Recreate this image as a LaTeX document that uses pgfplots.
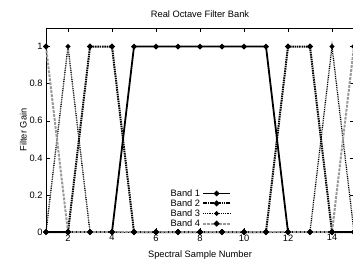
\documentclass[border=0pt]{standalone}
\usepackage{pgfplots}
\pgfplotsset{compat=1.18}
\usepackage{fontspec}
\setmainfont{Liberation Sans}
\begin{document}
\begin{tikzpicture}
\begin{axis}[
  name=ax,
  scale only axis,
  width=308pt, height=204pt,
  xmin=1, xmax=15, ymin=0, ymax=1.1,
  xtick={2,4,...,14}, ytick={0,0.2,...,1},
  yticklabels={0,0.2,0.4,0.6,0.8,1},
  tick align=inside,
  major tick length=4pt,
  tick style={black, line width=0.4pt},
  axis line style={line width=0.5pt},
  ticklabel style={font=\fontsize{9.3}{10}\selectfont},
  xticklabel style={yshift=1pt},
  /pgf/number format/assume math mode=true,
  title={Real Octave Filter Bank},
  title style={font=\fontsize{9.3}{10}\selectfont, yshift=1pt},
  xlabel={Spectral Sample Number},
  ylabel={Filter Gain},
  label style={font=\fontsize{9.3}{10}\selectfont},
  xlabel style={yshift=-2.5pt},
  ylabel style={yshift=-4pt},
  clip=false,
  legend plot pos=right,
  legend cell align=right,
  legend style={at={(0.605,0.225)}, anchor=north east, draw=none, fill=none,
    font=\fontsize{9.3}{10}\selectfont, row sep=-2.2pt, inner sep=1pt},
  legend image code/.code={\draw[mark repeat=2,mark phase=2,#1] plot coordinates {(0cm,0cm) (0.475cm,0cm) (0.95cm,0cm)};},
  every axis plot/.append style={mark=*, mark size=1.7pt},
]
\addplot[black, line width=1.8pt, mark options={solid}] coordinates {
(1,0)(2,0)(3,0)(4,0)(5,1)(6,1)(7,1)(8,1)(9,1)(10,1)(11,1)(12,0)(13,0)(14,0)(15,0)};
\addlegendentry{Band 1}
\addplot[black, line width=2pt, dash pattern=on 1.5pt off 0.8pt, mark options={solid}] coordinates {
(1,0)(2,0)(3,1)(4,1)(5,0)(6,0)(7,0)(8,0)(9,0)(10,0)(11,0)(12,1)(13,1)(14,0)(15,0)};
\addlegendentry{Band 2}
\addplot[black, line width=1.3pt, dash pattern=on 0.9pt off 0.9pt, mark options={solid}] coordinates {
(1,0)(2,1)(3,0)(4,0)(5,0)(6,0)(7,0)(8,0)(9,0)(10,0)(11,0)(12,0)(13,0)(14,1)(15,0)};
\addlegendentry{Band 3}
\addplot[black!40, line width=2pt, dash pattern=on 2.8pt off 1.2pt, mark options={solid,black}] coordinates {
(1,1)(2,0)(3,0)(4,0)(5,0)(6,0)(7,0)(8,0)(9,0)(10,0)(11,0)(12,0)(13,0)(14,0)(15,1)};
\addlegendentry{Band 4}
\end{axis}
\pgfresetboundingbox
\path[use as bounding box] ([xshift=-46pt,yshift=-28pt]ax.south west) rectangle ([xshift=-1pt,yshift=28pt]ax.north east);
\end{tikzpicture}
\end{document}
